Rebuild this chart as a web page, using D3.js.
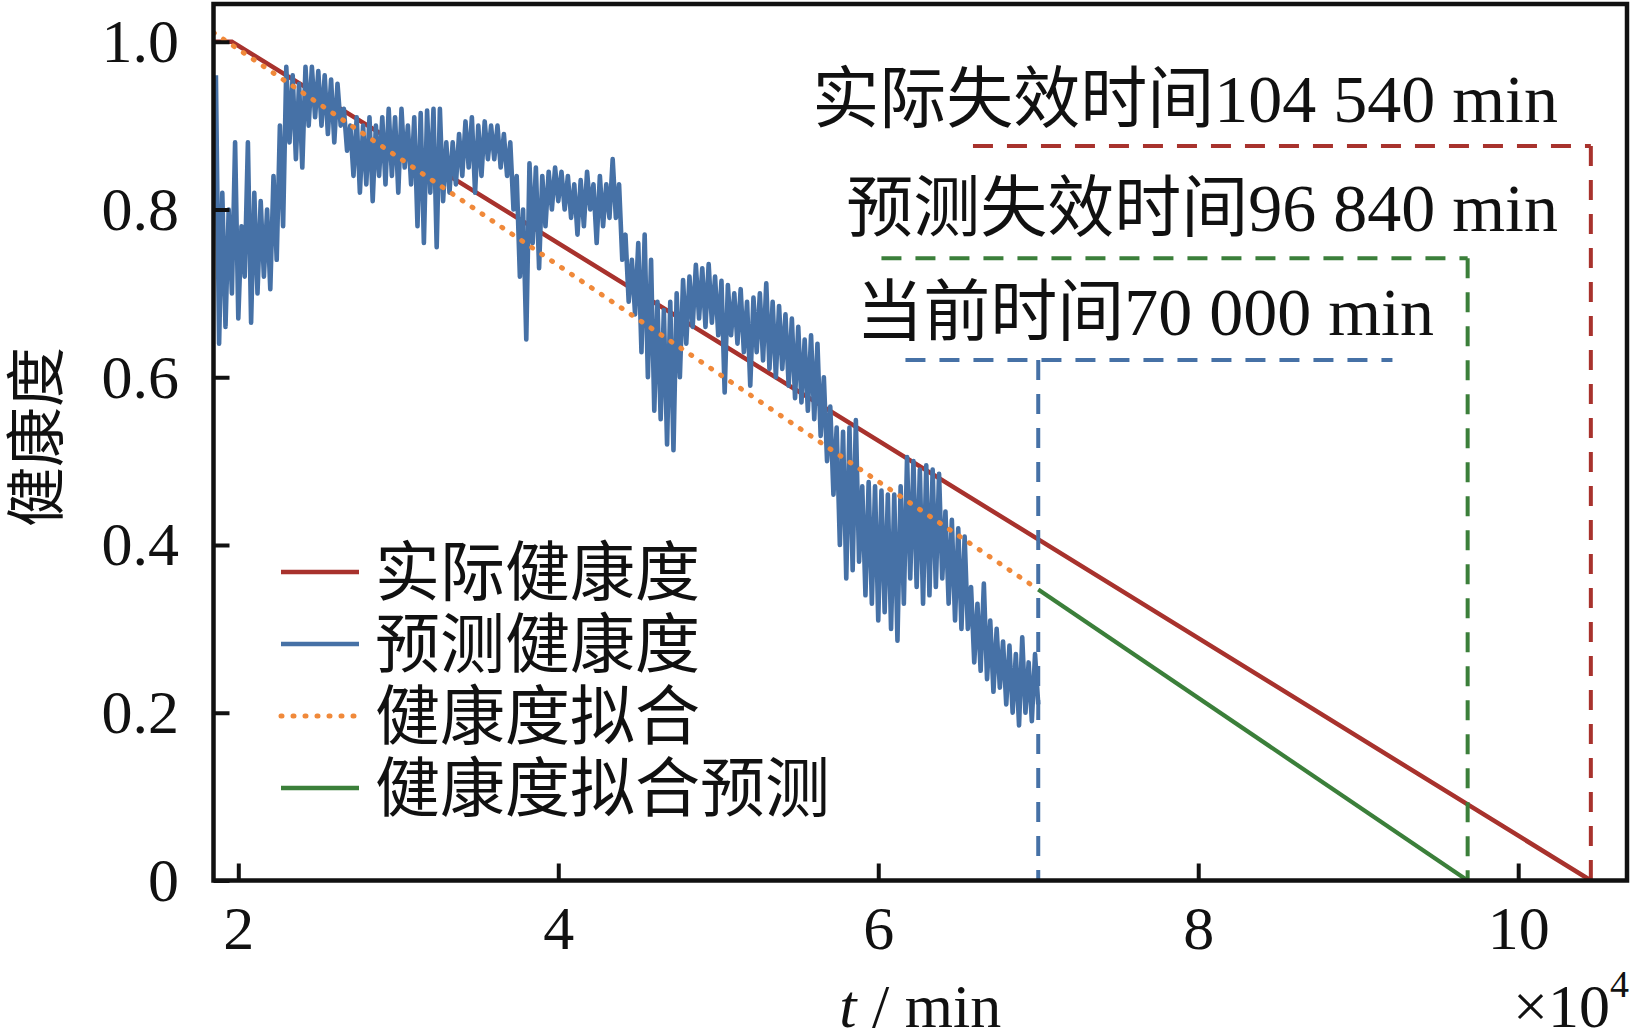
<!DOCTYPE html>
<html>
<head>
<meta charset="utf-8">
<script src="https://cdn.jsdelivr.net/npm/d3@7/dist/d3.min.js"></script>
<style>
  html, body { margin: 0; padding: 0; background: #fff; }
  svg { display: block; }
</style>
</head>
<body>
<svg width="1632" height="1034"></svg>
<script>
// ---- data (time in 10^4 min, health 0..1) ----
const actualHealth = [[1.845, 1.0], [1.96, 1.0], [10.454, 0]];
const fitHealth = [[1.845, 1.011], [7.0, 0.347]];
const fitForecast = [[7.0, 0.347], [9.684, 0]];

// predicted health: [t, high, low] per 0.04 bin
const predBins = [
  [1.86,0.96,0.64],[1.90,0.82,0.66],[1.94,0.80,0.70],[1.98,0.88,0.67],[2.02,0.78,0.72],
  [2.06,0.88,0.665],[2.10,0.82,0.70],[2.14,0.81,0.72],[2.18,0.80,0.705],[2.22,0.84,0.74],
  [2.26,0.90,0.78],[2.30,0.97,0.88],[2.34,0.96,0.86],[2.38,0.95,0.85],[2.42,0.97,0.90],
  [2.46,0.97,0.91],[2.50,0.965,0.90],[2.54,0.96,0.89],[2.58,0.955,0.88],[2.62,0.95,0.90],
  [2.66,0.92,0.87],[2.70,0.90,0.84],[2.74,0.91,0.82],[2.78,0.90,0.83],[2.82,0.91,0.81],
  [2.86,0.90,0.84],[2.90,0.91,0.83],[2.94,0.92,0.84],[2.98,0.91,0.82],[3.02,0.92,0.85],
  [3.06,0.90,0.83],[3.10,0.91,0.78],[3.14,0.915,0.76],[3.18,0.918,0.82],[3.22,0.92,0.755],
  [3.26,0.92,0.81],[3.30,0.88,0.82],[3.34,0.88,0.83],[3.38,0.89,0.84],[3.42,0.905,0.85],
  [3.46,0.91,0.82],[3.50,0.90,0.84],[3.54,0.905,0.86],[3.58,0.90,0.86],[3.62,0.90,0.85],
  [3.66,0.89,0.84],[3.70,0.88,0.80],[3.74,0.84,0.72],[3.78,0.80,0.645],[3.82,0.855,0.76],
  [3.86,0.85,0.73],[3.90,0.84,0.78],[3.94,0.845,0.80],[3.98,0.85,0.81],[4.02,0.845,0.80],
  [4.06,0.84,0.79],[4.10,0.83,0.77],[4.14,0.835,0.78],[4.18,0.845,0.80],[4.22,0.83,0.76],
  [4.26,0.84,0.78],[4.30,0.83,0.79],[4.34,0.86,0.79],[4.38,0.83,0.74],[4.42,0.77,0.69],
  [4.46,0.74,0.675],[4.50,0.76,0.63],[4.54,0.77,0.60],[4.58,0.74,0.56],[4.62,0.69,0.55],
  [4.66,0.68,0.52],[4.70,0.69,0.513],[4.74,0.70,0.60],[4.78,0.716,0.64],[4.82,0.72,0.66],
  [4.86,0.734,0.67],[4.90,0.73,0.66],[4.94,0.735,0.665],[4.98,0.72,0.65],[5.02,0.715,0.582],
  [5.06,0.71,0.65],[5.10,0.70,0.64],[5.14,0.705,0.63],[5.18,0.69,0.59],[5.22,0.695,0.63],
  [5.26,0.70,0.62],[5.30,0.712,0.61],[5.34,0.69,0.60],[5.38,0.685,0.61],[5.42,0.675,0.59],
  [5.46,0.67,0.575],[5.50,0.66,0.57],[5.54,0.645,0.56],[5.58,0.65,0.55],[5.62,0.64,0.53],
  [5.66,0.60,0.50],[5.70,0.565,0.46],[5.74,0.54,0.40],[5.78,0.535,0.36],[5.82,0.54,0.37],
  [5.86,0.549,0.38],[5.90,0.47,0.34],[5.94,0.475,0.33],[5.98,0.47,0.31],[6.02,0.465,0.32],
  [6.06,0.46,0.30],[6.10,0.46,0.286],[6.14,0.47,0.33],[6.18,0.505,0.36],[6.22,0.50,0.35],
  [6.26,0.49,0.33],[6.30,0.495,0.34],[6.34,0.49,0.35],[6.38,0.485,0.36],[6.42,0.44,0.33],
  [6.46,0.43,0.31],[6.50,0.42,0.30],[6.54,0.41,0.30],[6.58,0.35,0.26],[6.62,0.33,0.25],
  [6.66,0.354,0.24],[6.70,0.31,0.225],[6.74,0.30,0.23],[6.78,0.285,0.21],[6.82,0.28,0.20],
  [6.86,0.27,0.185],[6.90,0.29,0.20],[6.94,0.26,0.19],[6.98,0.27,0.21]
];

const xTicks = [2, 4, 6, 8, 10];
const yTicks = [0, 0.2, 0.4, 0.6, 0.8, 1.0];
const legendNames = ['实际健康度', '预测健康度', '健康度拟合', '健康度拟合预测'];

// failure / current times in min, with the level and start of each guide line
const markTimes = [104540, 96840, 70000];
const markLabels = ['实际失效时间', '预测失效时间', '当前时间'];
const markLevels = [0.8756, 0.742, 0.6205];
const markStarts = [6.592, 6.02, 6.17];
const markEnds = [10.454, 9.684, 9.214];

// ---- layout ----
const svg = d3.select('svg');
const width = +svg.attr('width');
const height = +svg.attr('height');

const plot = { left: 213.5, right: 1627, top: 4, bottom: 880.5 };
const colors = { red: '#a8322d', blue: '#4671a6', orange: '#f0893a', green: '#3b7f3a' };
const serif = '"Liberation Serif", "Times New Roman", serif';
const cjk = '"Noto Sans CJK SC", sans-serif';

const x = d3.scaleLinear().domain([1.845, 10.68]).range([plot.left, plot.right]);
const y = d3.scaleLinear().domain([0, 1.045]).range([plot.bottom, plot.top]);

const line = d3.line().x(d => x(d[0])).y(d => y(d[1]));

// zigzag through high / low of every bin
const predPoints = [];
predBins.forEach(d => {
  predPoints.push([d[0], d[1]]);
  predPoints.push([d[0] + 0.02, d[2]]);
});

svg.append('clipPath').attr('id', 'clip')
  .append('rect')
    .attr('x', plot.left).attr('y', plot.top)
    .attr('width', plot.right - plot.left).attr('height', plot.bottom - plot.top);

const g = svg.append('g').attr('clip-path', 'url(#clip)');

g.append('path').datum(actualHealth)
  .attr('d', line).attr('fill', 'none')
  .attr('stroke', colors.red).attr('stroke-width', 4.5);

g.append('path').datum(predPoints)
  .attr('d', line).attr('fill', 'none')
  .attr('stroke', colors.blue).attr('stroke-width', 4.6)
  .attr('stroke-linejoin', 'round');

g.append('path').datum(fitHealth)
  .attr('d', line).attr('fill', 'none')
  .attr('stroke', colors.orange).attr('stroke-width', 5)
  .attr('stroke-linecap', 'round')
  .attr('stroke-dasharray', '1 11');

g.append('path').datum(fitForecast)
  .attr('d', line).attr('fill', 'none')
  .attr('stroke', colors.green).attr('stroke-width', 4.2);

// guide lines for the three times
const markColors = [colors.red, colors.green, colors.blue];
markTimes.forEach((m, i) => {
  const tx = x(m / 1e4);
  const ly = y(markLevels[i]);
  svg.append('path')
    .attr('d', `M${x(markStarts[i])},${ly}H${x(markEnds[i])}`)
    .attr('fill', 'none').attr('stroke', markColors[i])
    .attr('stroke-width', 4).attr('stroke-dasharray', '20 14');
  svg.append('path')
    .attr('d', `M${tx},${ly}V${y(0)}`)
    .attr('fill', 'none').attr('stroke', markColors[i])
    .attr('stroke-width', 4).attr('stroke-dasharray', '20 14');
});

// labels above the guide lines
const labelRight = [1558, 1558, 1434];
const labelBase = [122, 231, 335];
const fmtMin = v => d3.format(',')(v).replace(/,/g, ' ');
markTimes.forEach((m, i) => {
  const t = svg.append('text')
    .attr('x', labelRight[i]).attr('y', labelBase[i])
    .attr('text-anchor', 'end').attr('fill', '#111');
  t.append('tspan').attr('font-family', cjk).attr('font-size', 67).text(markLabels[i]);
  t.append('tspan').attr('font-family', serif).attr('font-size', 68).text(fmtMin(m) + ' min');
});

// ---- axes ----
const xAxis = d3.axisBottom(x).tickValues(xTicks)
  .tickSizeInner(-17).tickSizeOuter(0).tickPadding(24.5);
const yAxis = d3.axisLeft(y).tickValues(yTicks)
  .tickSizeInner(-16).tickSizeOuter(0).tickPadding(34.5)
  .tickFormat(d => d === 0 ? '0' : d3.format('.1f')(d));

const gx = svg.append('g').attr('transform', `translate(0,${plot.bottom})`).call(xAxis);
const gy = svg.append('g').attr('transform', `translate(${plot.left},0)`).call(yAxis);
[gx, gy].forEach(a => {
  a.select('.domain').remove();
  a.selectAll('.tick line').attr('stroke', '#111').attr('stroke-width', 4);
  a.selectAll('.tick text')
    .attr('font-family', serif).attr('font-size', 62).attr('fill', '#111');
});

// frame
svg.append('rect')
  .attr('x', plot.left).attr('y', plot.top)
  .attr('width', plot.right - plot.left).attr('height', plot.bottom - plot.top)
  .attr('fill', 'none').attr('stroke', '#111').attr('stroke-width', 4.5);

// axis titles
const xt = svg.append('text')
  .attr('x', (plot.left + plot.right) / 2).attr('y', 1027)
  .attr('text-anchor', 'middle').attr('font-family', serif)
  .attr('font-size', 62).attr('fill', '#111');
xt.append('tspan').attr('font-style', 'italic').text('t');
xt.append('tspan').text(' / min');

const xm = svg.append('text')
  .attr('x', 1629).attr('y', 1027)
  .attr('text-anchor', 'end').attr('font-family', serif)
  .attr('font-size', 62).attr('fill', '#111');
xm.append('tspan').text('×10');
xm.append('tspan').attr('font-size', 38).attr('dy', -30).text('4');

svg.append('text')
  .attr('transform', 'translate(58,437) rotate(-90)')
  .attr('text-anchor', 'middle').attr('font-family', cjk)
  .attr('font-size', 60).attr('fill', '#111')
  .text('健康度');

// ---- legend ----
const legendStyles = [
  { color: colors.red, dash: null, width: 4.5, cap: 'butt' },
  { color: colors.blue, dash: null, width: 4.5, cap: 'butt' },
  { color: colors.orange, dash: '1 11', width: 5, cap: 'round' },
  { color: colors.green, dash: null, width: 4.5, cap: 'butt' }
];
const legend = svg.append('g').attr('transform', 'translate(281,572)');
const item = legend.selectAll('g').data(legendNames).join('g')
  .attr('transform', (d, i) => `translate(0,${i * 72})`);
item.append('line')
  .attr('x1', 0).attr('x2', 78).attr('y1', 0).attr('y2', 0)
  .attr('stroke', (d, i) => legendStyles[i].color)
  .attr('stroke-width', (d, i) => legendStyles[i].width)
  .attr('stroke-linecap', (d, i) => legendStyles[i].cap)
  .attr('stroke-dasharray', (d, i) => legendStyles[i].dash);
item.append('text')
  .attr('x', 94).attr('y', 23)
  .attr('font-family', cjk).attr('font-size', 65).attr('fill', '#111')
  .text(d => d);
</script>
</body>
</html>
